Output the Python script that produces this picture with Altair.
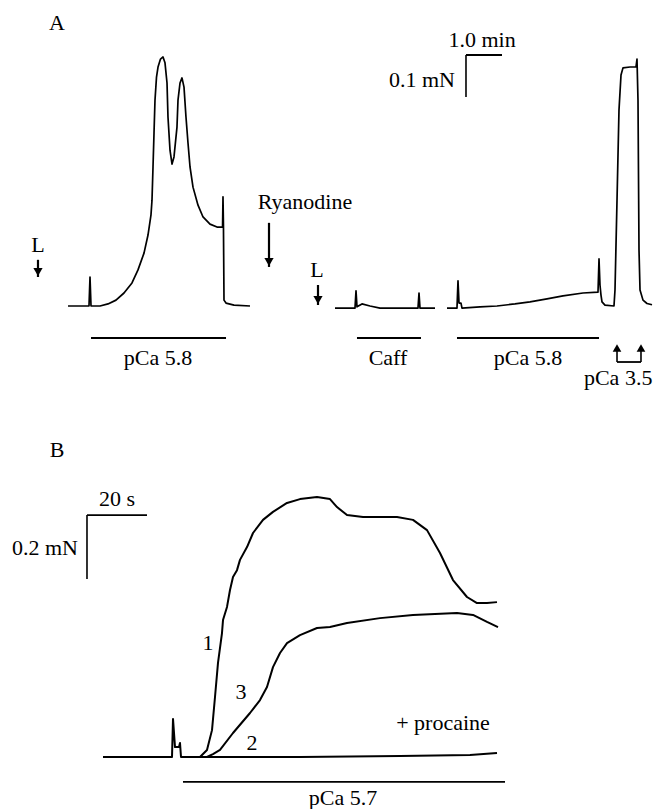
import altair as alt
import pandas as pd

FONT = "Liberation Serif"

# ---------------- Panel A (time in min, force in mN) ----------------
A1_t = [1.667, 2.25, 2.278, 2.306, 2.556, 2.778, 3.0, 3.222, 3.444, 3.611, 3.778, 3.889, 3.972,
        4.0, 4.028, 4.056, 4.083, 4.125, 4.167, 4.236, 4.306, 4.361, 4.417, 4.444, 4.5, 4.556, 4.611, 4.694,
        4.722, 4.778, 4.833, 4.889, 4.944, 5.0, 5.056, 5.139, 5.278, 5.417, 5.611, 5.806, 5.944,
        5.96, 5.972, 5.985, 6.0, 6.056, 6.278, 6.722]
A1_f = [0.0, 0.0, 0.069, 0.0, 0.0, 0.005, 0.014, 0.031, 0.055, 0.086, 0.126, 0.169, 0.217,
        0.252, 0.331, 0.412, 0.490, 0.545, 0.569, 0.588, 0.593, 0.579, 0.531, 0.45, 0.371, 0.338, 0.355, 0.426,
        0.490, 0.531, 0.543, 0.521, 0.45, 0.388, 0.331, 0.283, 0.240, 0.212, 0.195, 0.188, 0.188,
        0.188, 0.260, 0.19, 0.014, 0.007, 0.002, 0.0]

A2_t = [9.083, 9.639, 9.667, 9.694, 9.833, 10.056, 10.333, 11.389, 11.417, 11.444, 11.861]
A2_f = [-0.005, -0.005, 0.036, -0.002, 0.005, 0.0, -0.005, -0.005, 0.031, -0.005, -0.005]

A3_t = [12.194, 12.472, 12.5, 12.528, 12.583, 12.611, 13.111, 13.583, 14.083, 14.5, 14.972,
        15.417, 15.972, 16.389, 16.417, 16.444, 16.472, 16.5, 16.583, 16.833, 16.861, 16.917,
        16.972, 17.028, 17.083, 17.278, 17.444, 17.472, 17.5, 17.528, 17.556, 17.639, 17.75, 17.889]
A3_f = [-0.005, -0.005, 0.060, 0.007, 0.007, -0.005, -0.002, 0.0, 0.005, 0.010, 0.017,
        0.024, 0.031, 0.033, 0.112, 0.05, 0.026, 0.010, 0.002, 0.0, 0.038, 0.252,
        0.467, 0.55, 0.567, 0.569, 0.569, 0.588, 0.490, 0.133, 0.038, 0.014, 0.006, 0.003]

# ---------------- Panel B (time in s, force in mN) ----------------
B2_t = [31.67, 54.67, 55.0, 55.67, 57.0, 57.33, 57.67, 64.0, 97.33, 130.67, 154.0, 163.0]
B2_f = [0.0, 0.0, 0.119, 0.031, 0.031, 0.044, 0.0, 0.0, 0.0, 0.003, 0.006, 0.0125]

B1_t = [64.0, 66.33, 68.0, 69.0, 70.0, 71.33, 71.67, 73.0, 74.0, 75.0, 76.33, 77.33, 79.67,
        81.67, 85.0, 88.33, 93.0, 97.33, 103.0, 107.33, 109.67, 113.0, 118.33, 129.67, 135.0,
        139.67, 144.0, 148.33, 153.0, 156.33, 159.67, 163.0]
B1_f = [0.0, 0.022, 0.084, 0.1875, 0.294, 0.3875, 0.428, 0.469, 0.522, 0.5625, 0.584, 0.616,
        0.656, 0.7, 0.741, 0.766, 0.794, 0.806, 0.8125, 0.806, 0.781, 0.756, 0.75, 0.75, 0.741,
        0.709, 0.6375, 0.553, 0.5, 0.481, 0.481, 0.484]

B3_t = [66.33, 68.33, 70.67, 75.0, 80.67, 84.0, 86.33, 88.33, 90.67, 93.0, 97.33, 103.0, 107.33,
        113.0, 124.0, 135.0, 149.67, 155.0, 159.67, 163.33]
B3_f = [0.0, 0.009, 0.022, 0.075, 0.1375, 0.178, 0.219, 0.281, 0.325, 0.356, 0.381, 0.403,
        0.406, 0.419, 0.434, 0.444, 0.45, 0.444, 0.422, 0.406]

# ---------------- annotations ----------------
A_text = ["A", "L", "Ryanodine", "L", "1.0 min", "0.1 mN", "pCa 5.8", "Caff", "pCa 5.8", "pCa 3.5"]
A_text_t = [1.361, 0.833, 8.25, 8.583, 13.167, 12.417, 4.167, 10.556, 14.444, 17.9]
A_text_f = [0.674, 0.145, 0.248, 0.0857, 0.633, 0.538, -0.124, -0.124, -0.124, -0.171]
A_text_align = ["center", "center", "center", "center", "center", "right", "center", "center", "center", "right"]

A_bar_t = [2.306, 9.694, 12.472, 12.722, 16.917]
A_bar_t2 = [6.056, 11.472, 16.417, 13.722, 17.583]
A_bar_f = [-0.0762, -0.0762, -0.0762, 0.5976, -0.1333]

A_vbar_t = [12.722, 16.917, 17.583]
A_vbar_f = [0.4976, -0.1333, -0.1333]
A_vbar_f2 = [0.5976, -0.095, -0.095]

A_down_t = [0.833, 7.25, 8.611]
A_down_top = [0.110, 0.198, 0.050]
A_down_tip = [0.069, 0.093, 0.0024]

A_up_t = [16.917, 17.583]
A_up_tip = [-0.0905, -0.0905]

B_text = ["B", "20 s", "0.2 mN", "1", "3", "2", "+ procaine", "pCa 5.7"]
B_text_t = [16.33, 36.33, 23.33, 66.67, 77.67, 81.33, 145.0, 111.67]
B_text_f = [0.959, 0.806, 0.653, 0.356, 0.203, 0.044, 0.106, -0.128]
B_text_align = ["center", "center", "right", "center", "center", "center", "center", "center"]

B_bar_t = [58.33, 26.33]
B_bar_t2 = [165.67, 46.33]
B_bar_f = [-0.078, 0.756]
B_vbar_t = [26.33]
B_vbar_f = [0.556]
B_vbar_f2 = [0.756]

W = 645
HA, HB = 390, 404
A_X = [0, 645 / 36]
A_Y = [-0.219, 0.7095]
B_X = [0, 215]
B_Y = [-0.1406, 1.1219]


def traces(pairs):
    rows = []
    for name, ts, fs in pairs:
        for i, (t, f) in enumerate(zip(ts, fs)):
            rows.append({"trace": name, "i": i, "t": t, "f": f})
    return pd.DataFrame(rows)


def panel(xd, yd, tr, sw, texts, bars, vbars, downs, ups, h):
    xs = alt.Scale(domain=xd, nice=False, zero=False)
    ys = alt.Scale(domain=yd, nice=False, zero=False)
    X = alt.X("t:Q", scale=xs, axis=None)
    Y = alt.Y("f:Q", scale=ys, axis=None)
    layers = [
        alt.Chart(tr).mark_line(color="black", strokeWidth=sw, strokeJoin="round").encode(
            x=X, y=Y, detail="trace:N", order="i:Q")
    ]
    tdf = pd.DataFrame({"label": texts[0], "t": texts[1], "f": texts[2], "align": texts[3]})
    for al in ["center", "right"]:
        sub = tdf[tdf["align"] == al]
        if len(sub):
            layers.append(alt.Chart(sub).mark_text(font=FONT, fontSize=22, color="black",
                                                   align=al, baseline="middle").encode(
                x=X, y=Y, text="label:N"))
    bdf = pd.DataFrame({"t": bars[0], "t2": bars[1], "f": bars[2]})
    layers.append(alt.Chart(bdf).mark_rule(color="black", strokeWidth=1.8).encode(
        x=X, x2="t2:Q", y=Y))
    vdf = pd.DataFrame({"t": vbars[0], "f": vbars[1], "f2": vbars[2]})
    layers.append(alt.Chart(vdf).mark_rule(color="black", strokeWidth=1.6).encode(
        x=X, y=Y, y2="f2:Q"))
    if downs is not None:
        ddf = pd.DataFrame({"t": downs[0], "f": downs[1], "f2": downs[2]})
        layers.append(alt.Chart(ddf).mark_rule(color="black", strokeWidth=2.2).encode(
            x=X, y=Y, y2="f2:Q"))
        layers.append(alt.Chart(ddf).mark_point(shape="triangle-down", filled=True, color="black",
                                                size=85, opacity=1, yOffset=-5).encode(
            x=X, y=alt.Y("f2:Q", scale=ys, axis=None)))
    if ups is not None:
        udf = pd.DataFrame({"t": ups[0], "f": ups[1]})
        layers.append(alt.Chart(udf).mark_point(shape="triangle-up", filled=True, color="black",
                                                size=75, opacity=1, yOffset=4).encode(
            x=X, y=Y))
    return alt.layer(*layers).properties(width=W, height=h)


trA = traces([("a1", A1_t, A1_f), ("a2", A2_t, A2_f), ("a3", A3_t, A3_f)])
trB = traces([("b2", B2_t, B2_f), ("b1", B1_t, B1_f), ("b3", B3_t, B3_f)])

pA = panel(A_X, A_Y, trA, 1.7,
           (A_text, A_text_t, A_text_f, A_text_align),
           (A_bar_t, A_bar_t2, A_bar_f),
           (A_vbar_t, A_vbar_f, A_vbar_f2),
           (A_down_t, A_down_top, A_down_tip),
           (A_up_t, A_up_tip), HA)
pB = panel(B_X, B_Y, trB, 2.0,
           (B_text, B_text_t, B_text_f, B_text_align),
           (B_bar_t, B_bar_t2, B_bar_f),
           (B_vbar_t, B_vbar_f, B_vbar_f2),
           None, None, HB)

chart = alt.vconcat(pA, pB, spacing=0).properties(padding=0).configure_view(stroke=None)
chart.save("out.html", embed_options={"renderer": "svg", "actions": False})
